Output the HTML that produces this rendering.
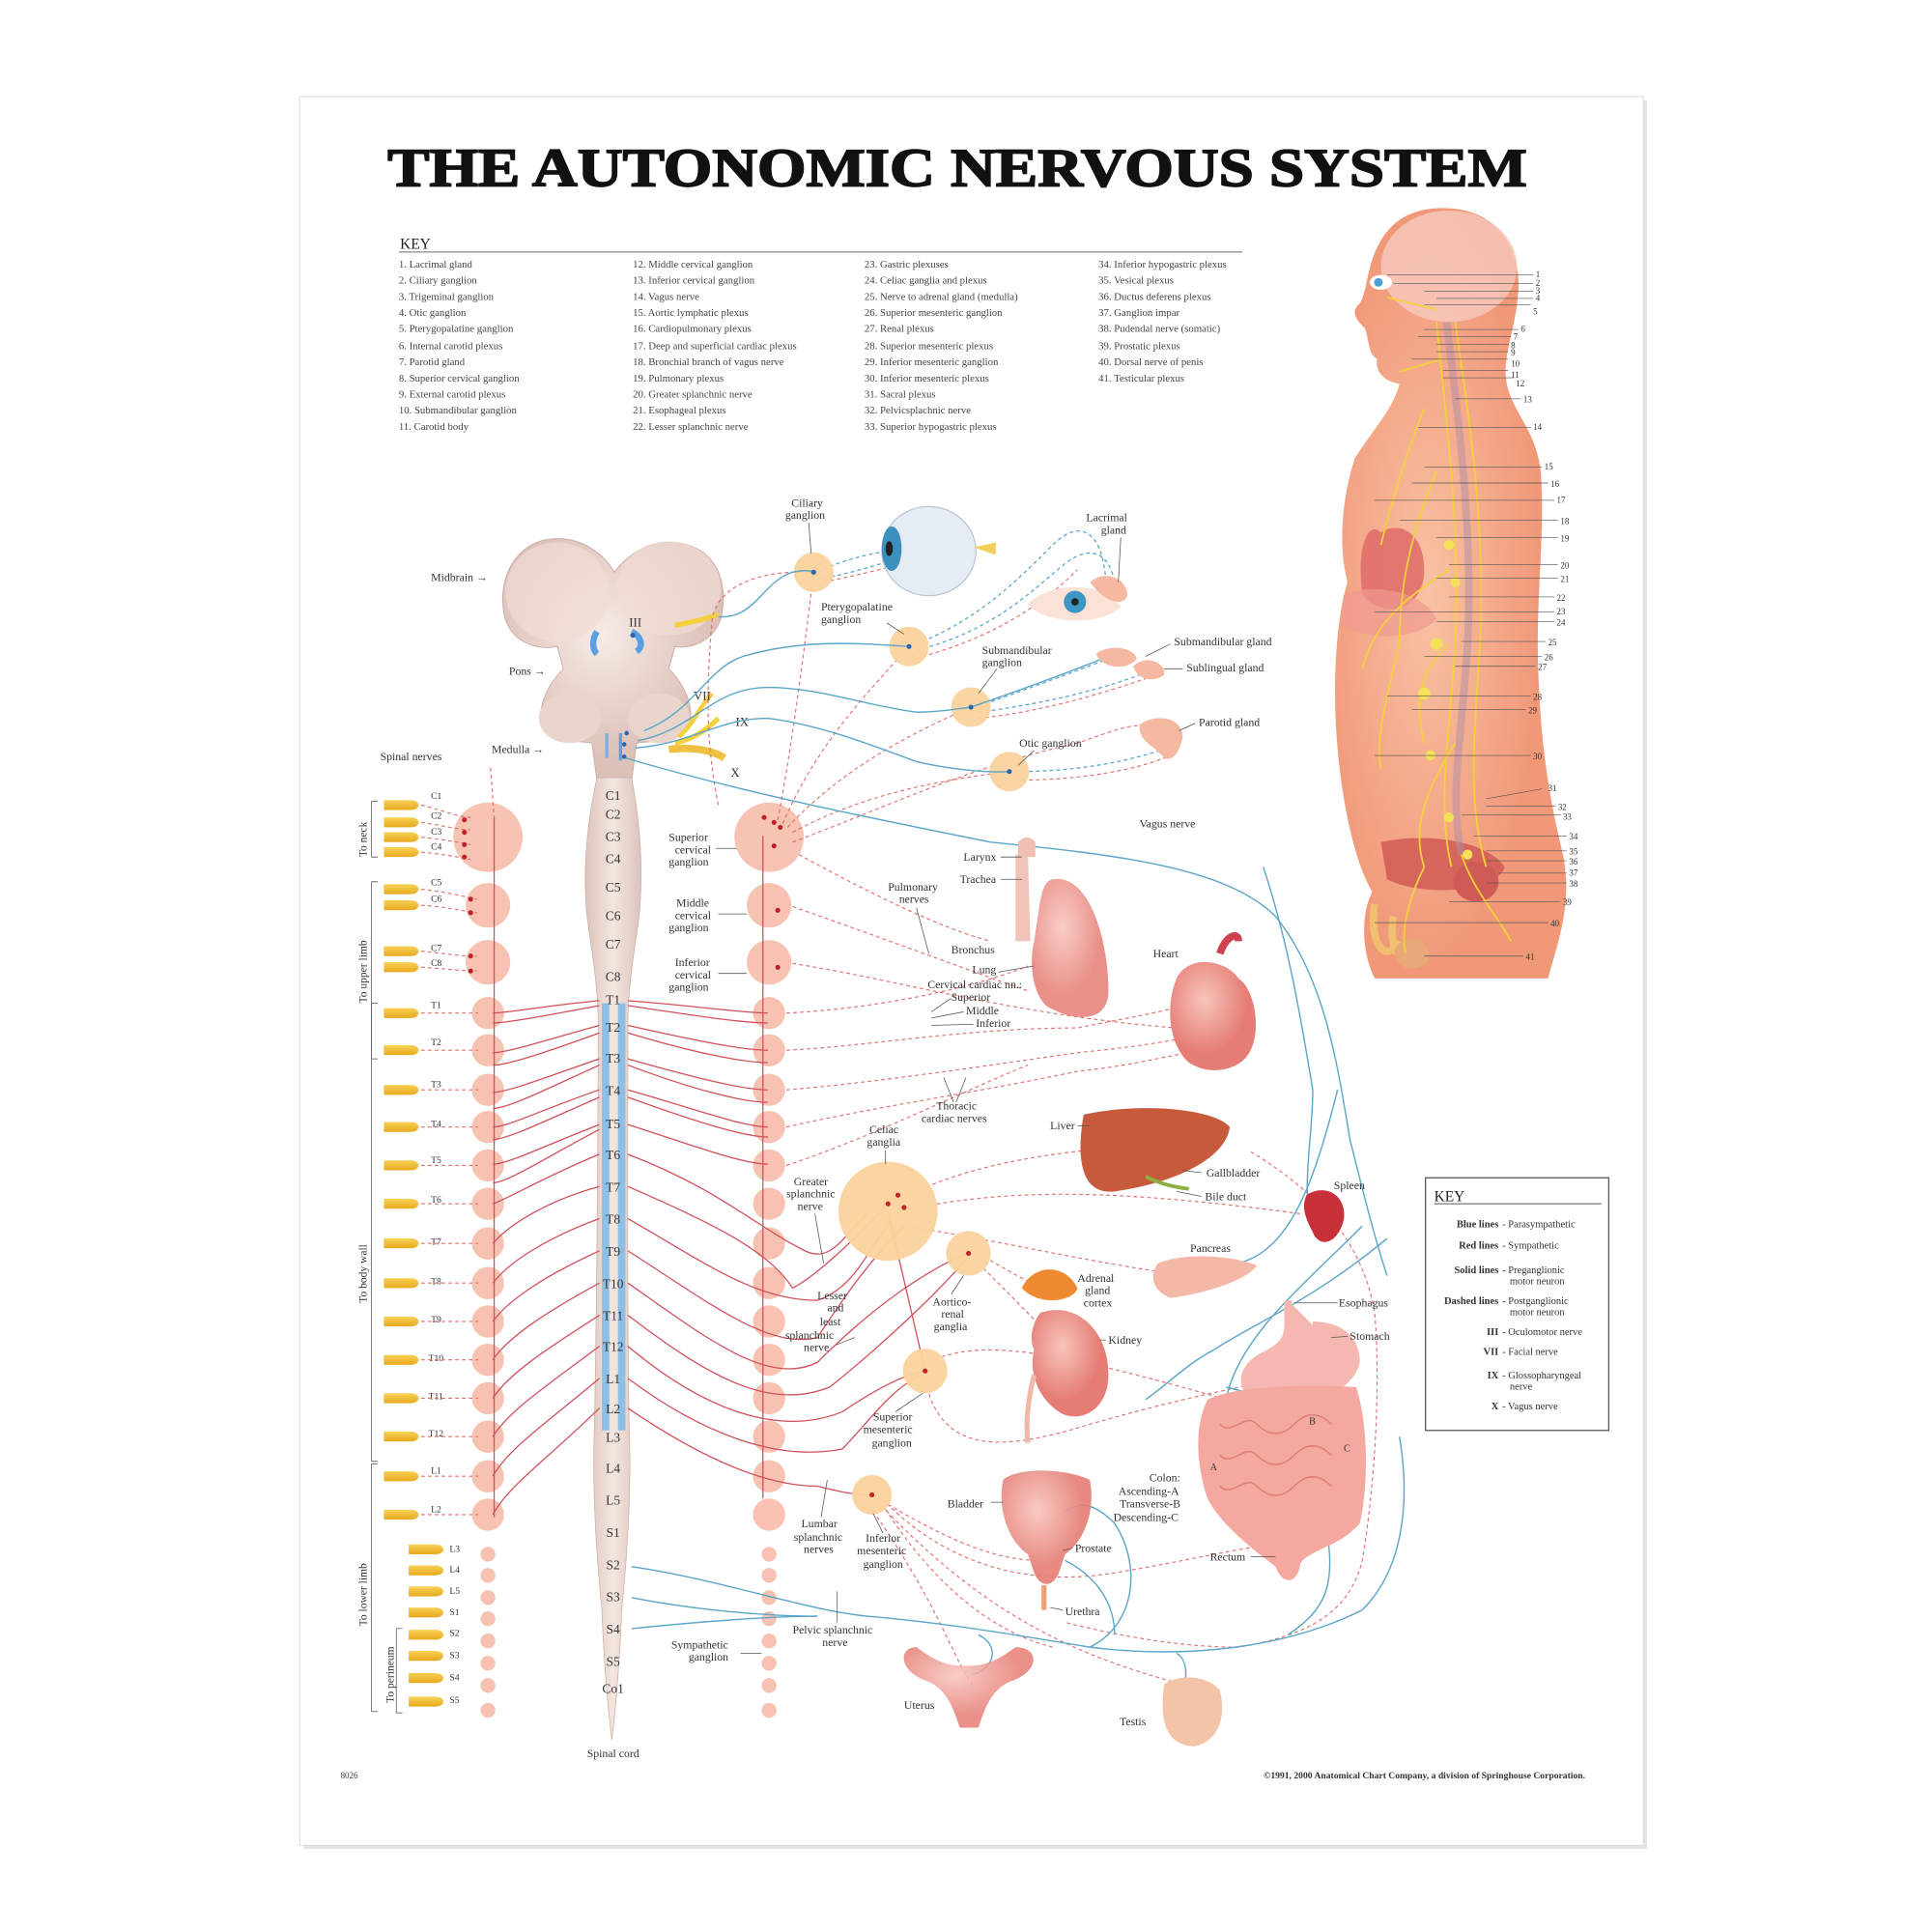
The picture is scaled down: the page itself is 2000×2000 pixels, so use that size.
<!DOCTYPE html>
<html><head><meta charset="utf-8"><style>
html,body{margin:0;padding:0;background:#fff;}
svg{display:block;}
text{font-family:"Liberation Serif",serif;fill:#333;}
.k{font-size:8.4px;fill:#444;}
.l{font-size:9.2px;fill:#333;}
.s{font-size:10px;fill:#333;}
.b{stroke:#5aa6c8;stroke-width:1.1;fill:none;}
.bd{stroke:#5aa6c8;stroke-width:1;fill:none;stroke-dasharray:3 2.5;}
.r{stroke:#d0505a;stroke-width:1;fill:none;}
.rd{stroke:#e07070;stroke-width:0.9;fill:none;stroke-dasharray:3 2.5;}
.g{stroke:#555;stroke-width:0.6;fill:none;}
.y{stroke:#f2d23a;stroke-width:1.4;fill:none;}
</style></head><body>
<svg width="2000" height="2000" viewBox="0 0 1560 1560" xmlns="http://www.w3.org/2000/svg">
<defs>
<linearGradient id="cord" x1="0" x2="1"><stop offset="0" stop-color="#dcc3bb"/><stop offset=".5" stop-color="#f3e6e0"/><stop offset="1" stop-color="#dcc3bb"/></linearGradient>
<radialGradient id="brain" cx=".45" cy=".4"><stop offset="0" stop-color="#f6ebe6"/><stop offset="1" stop-color="#dcc1b8"/></radialGradient>
<radialGradient id="org" cx=".4" cy=".35"><stop offset="0" stop-color="#f8c4bc"/><stop offset="1" stop-color="#e57d74"/></radialGradient>
<radialGradient id="body" cx=".4" cy=".5"><stop offset="0" stop-color="#f9c2a4"/><stop offset="1" stop-color="#f09878"/></radialGradient>
<linearGradient id="tab" x1="0" y1="0" x2="0" y2="1"><stop offset="0" stop-color="#f7d257"/><stop offset="1" stop-color="#e9a91e"/></linearGradient>
</defs>
<rect width="1560" height="1560" fill="#fff"/>
<rect x="245" y="81" width="1085" height="1412" fill="#e4e4e4"/>
<rect x="242" y="78" width="1085" height="1412" fill="#fff" stroke="#ddd" stroke-width="0.8"/>

<text x="773" y="150" text-anchor="middle" textLength="920" lengthAdjust="spacingAndGlyphs" style="font-size:44px;font-weight:bold;fill:#111;stroke:#111;stroke-width:1.3;">THE AUTONOMIC NERVOUS SYSTEM</text>

<text x="323" y="201" style="font-size:12px;fill:#222;">KEY</text>
<line x1="322" y1="203.5" x2="1003" y2="203.5" stroke="#888" stroke-width="1"/>
<g class="k">
<text x="322" y="216" class="k">1. Lacrimal gland</text><text x="322" y="229" class="k">2. Ciliary ganglion</text><text x="322" y="242" class="k">3. Trigeminal ganglion</text><text x="322" y="255" class="k">4. Otic ganglion</text><text x="322" y="268" class="k">5. Pterygopalatine ganglion</text><text x="322" y="282" class="k">6. Internal carotid plexus</text><text x="322" y="295" class="k">7. Parotid gland</text><text x="322" y="308" class="k">8. Superior cervical ganglion</text><text x="322" y="321" class="k">9. External carotid plexus</text><text x="322" y="334" class="k">10. Submandibular ganglion</text><text x="322" y="347" class="k">11. Carotid body</text>
<text x="511" y="216" class="k">12. Middle cervical ganglion</text><text x="511" y="229" class="k">13. Inferior cervical ganglion</text><text x="511" y="242" class="k">14. Vagus nerve</text><text x="511" y="255" class="k">15. Aortic lymphatic plexus</text><text x="511" y="268" class="k">16. Cardiopulmonary plexus</text><text x="511" y="282" class="k">17. Deep and superficial cardiac plexus</text><text x="511" y="295" class="k">18. Bronchial branch of vagus nerve</text><text x="511" y="308" class="k">19. Pulmonary plexus</text><text x="511" y="321" class="k">20. Greater splanchnic nerve</text><text x="511" y="334" class="k">21. Esophageal plexus</text><text x="511" y="347" class="k">22. Lesser splanchnic nerve</text>
<text x="698" y="216" class="k">23. Gastric plexuses</text><text x="698" y="229" class="k">24. Celiac ganglia and plexus</text><text x="698" y="242" class="k">25. Nerve to adrenal gland (medulla)</text><text x="698" y="255" class="k">26. Superior mesenteric ganglion</text><text x="698" y="268" class="k">27. Renal plexus</text><text x="698" y="282" class="k">28. Superior mesenteric plexus</text><text x="698" y="295" class="k">29. Inferior mesenteric ganglion</text><text x="698" y="308" class="k">30. Inferior mesenteric plexus</text><text x="698" y="321" class="k">31. Sacral plexus</text><text x="698" y="334" class="k">32. Pelvicsplachnic nerve</text><text x="698" y="347" class="k">33. Superior hypogastric plexus</text>
<text x="887" y="216" class="k">34. Inferior hypogastric plexus</text><text x="887" y="229" class="k">35. Vesical plexus</text><text x="887" y="242" class="k">36. Ductus deferens plexus</text><text x="887" y="255" class="k">37. Ganglion impar</text><text x="887" y="268" class="k">38. Pudendal nerve (somatic)</text><text x="887" y="282" class="k">39. Prostatic plexus</text><text x="887" y="295" class="k">40. Dorsal nerve of penis</text><text x="887" y="308" class="k">41. Testicular plexus</text>
</g>

<!-- Human figure -->
<path d="M1165,168 C1205,168 1228,195 1226,235 C1224,265 1214,285 1216,305 C1218,330 1240,345 1244,380 C1248,430 1240,480 1242,540 C1244,600 1250,640 1262,690 C1270,730 1258,760 1250,790 L1110,790 C1100,770 1098,740 1108,720 C1090,690 1078,620 1078,560 C1078,520 1082,490 1088,470 C1080,440 1084,400 1094,370 C1110,345 1125,330 1130,310 C1118,308 1110,300 1112,290 C1104,285 1106,275 1102,265 C1095,258 1090,252 1098,245 C1104,235 1104,215 1112,200 C1122,178 1140,168 1165,168Z" fill="url(#body)"/>
<ellipse cx="1170" cy="215" rx="55" ry="45" fill="#f6c9bd" opacity=".8"/>
<ellipse cx="1115" cy="228" rx="9" ry="6" fill="#fff"/><circle cx="1113" cy="228" r="3.5" fill="#4aa0d0"/>
<path d="M1115,430 C1105,420 1095,440 1100,480 C1115,500 1150,495 1150,460 C1150,430 1130,420 1115,430Z" fill="#e0706a" opacity=".9"/>
<path d="M1085,480 C1110,470 1150,478 1160,500 C1140,520 1100,515 1082,505Z" fill="#f09a90" opacity=".7"/>
<path d="M1115,680 C1150,672 1200,678 1215,700 C1210,720 1150,725 1120,710Z" fill="#d05a55" opacity=".85"/>
<ellipse cx="1192" cy="712" rx="18" ry="16" fill="#d05a55"/>
<path d="M1110,730 C1105,760 1118,780 1130,760 M1125,740 C1120,770 1135,785 1150,775" stroke="#f0c070" stroke-width="6" fill="none"/>
<ellipse cx="1140" cy="770" rx="14" ry="12" fill="#e8a878"/>
<path d="M1168,260 C1175,320 1190,420 1185,520 C1180,600 1170,640 1180,690" stroke="#b090a8" stroke-width="6" fill="none" opacity=".5"/>
<path d="M1160,260 C1165,320 1180,420 1175,520 C1170,600 1160,650 1172,700" class="y" stroke-width="3"/>
<path d="M1175,260 C1185,330 1200,420 1195,520 C1190,600 1185,650 1200,700" class="y"/>
<path d="M1120,240 L1160,250 M1130,300 L1165,290 M1150,330 C1130,380 1120,420 1115,440 M1160,380 C1140,430 1130,470 1130,520 C1120,560 1110,600 1115,620 M1170,520 C1150,540 1140,560 1150,600 M1170,460 C1140,480 1110,500 1100,540 M1175,600 C1150,640 1140,670 1150,700 M1180,690 C1190,720 1210,740 1220,760 M1150,700 C1140,720 1130,750 1135,770" class="y"/>
<g fill="#f5e05a"><circle cx="1170" cy="440" r="4"/><circle cx="1175" cy="470" r="4"/><circle cx="1160" cy="520" r="5"/><circle cx="1150" cy="560" r="5"/><circle cx="1155" cy="610" r="4"/><circle cx="1170" cy="660" r="4"/><circle cx="1185" cy="690" r="4"/></g>
<g stroke="#555" stroke-width="0.5">
<line x1="1120" y1="222" x2="1238" y2="222"/><line x1="1125" y1="229" x2="1238" y2="229"/><line x1="1150" y1="235" x2="1238" y2="235"/><line x1="1160" y1="241" x2="1238" y2="241"/><line x1="1150" y1="246" x2="1236" y2="246"/>
<line x1="1150" y1="266" x2="1226" y2="266"/><line x1="1145" y1="272" x2="1220" y2="272"/><line x1="1160" y1="278" x2="1218" y2="278"/><line x1="1160" y1="284" x2="1218" y2="284"/><line x1="1140" y1="290" x2="1218" y2="290"/><line x1="1165" y1="299" x2="1218" y2="299"/><line x1="1165" y1="305" x2="1222" y2="305"/><line x1="1175" y1="322" x2="1228" y2="322"/><line x1="1145" y1="345" x2="1236" y2="345"/>
<line x1="1150" y1="377" x2="1245" y2="377"/><line x1="1140" y1="390" x2="1250" y2="390"/><line x1="1110" y1="404" x2="1255" y2="404"/><line x1="1130" y1="420" x2="1258" y2="420"/><line x1="1160" y1="434" x2="1258" y2="434"/><line x1="1170" y1="456" x2="1258" y2="456"/><line x1="1160" y1="467" x2="1258" y2="467"/><line x1="1170" y1="482" x2="1255" y2="482"/><line x1="1110" y1="494" x2="1255" y2="494"/><line x1="1160" y1="502" x2="1255" y2="502"/>
<line x1="1180" y1="518" x2="1248" y2="518"/><line x1="1150" y1="530" x2="1245" y2="530"/><line x1="1175" y1="538" x2="1240" y2="538"/><line x1="1120" y1="562" x2="1236" y2="562"/><line x1="1140" y1="573" x2="1232" y2="573"/><line x1="1110" y1="610" x2="1236" y2="610"/>
<line x1="1200" y1="645" x2="1245" y2="637"/><line x1="1200" y1="651" x2="1256" y2="651"/><line x1="1180" y1="658" x2="1260" y2="658"/><line x1="1190" y1="675" x2="1265" y2="675"/><line x1="1200" y1="687" x2="1265" y2="687"/><line x1="1200" y1="695" x2="1265" y2="695"/><line x1="1210" y1="705" x2="1265" y2="705"/><line x1="1200" y1="713" x2="1265" y2="713"/><line x1="1170" y1="728" x2="1260" y2="728"/><line x1="1110" y1="745" x2="1250" y2="745"/><line x1="1150" y1="772" x2="1230" y2="772"/>
</g>
<g style="font-size:7px;fill:#333;font-family:'Liberation Serif',serif">
<text x="1240" y="224">1</text><text x="1240" y="231">2</text><text x="1240" y="237">3</text><text x="1240" y="243">4</text><text x="1238" y="254">5</text><text x="1228" y="268">6</text><text x="1222" y="274">7</text><text x="1220" y="281">8</text><text x="1220" y="287">9</text><text x="1220" y="296">10</text><text x="1220" y="305">11</text><text x="1224" y="312">12</text><text x="1230" y="325">13</text><text x="1238" y="347">14</text>
<text x="1247" y="379">15</text><text x="1252" y="393">16</text><text x="1257" y="406">17</text><text x="1260" y="423">18</text><text x="1260" y="437">19</text><text x="1260" y="459">20</text><text x="1260" y="470">21</text><text x="1257" y="485">22</text><text x="1257" y="496">23</text><text x="1257" y="505">24</text><text x="1250" y="521">25</text><text x="1247" y="533">26</text><text x="1242" y="541">27</text><text x="1238" y="565">28</text><text x="1234" y="576">29</text><text x="1238" y="613">30</text><text x="1250" y="639">31</text><text x="1258" y="654">32</text><text x="1262" y="662">33</text><text x="1267" y="678">34</text><text x="1267" y="690">35</text><text x="1267" y="698">36</text><text x="1267" y="707">37</text><text x="1267" y="716">38</text><text x="1262" y="731">39</text><text x="1252" y="748">40</text><text x="1232" y="775">41</text>
</g>

<!-- Brainstem -->
<path d="M450,435 C415,435 400,470 408,500 C415,520 435,525 450,522 L455,540 C440,555 432,575 440,590 C450,600 470,598 478,600 L482,630 L510,630 L514,600 C525,598 545,600 555,590 C562,575 555,555 540,540 L545,522 C560,525 580,515 583,495 C588,465 575,438 540,438 C520,438 505,450 496,462 C488,448 472,435 450,435Z" fill="url(#brain)" stroke="#cfb0a6" stroke-width="0.8"/>
<ellipse cx="450" cy="478" rx="42" ry="40" fill="#efddd6" opacity=".7"/><ellipse cx="540" cy="475" rx="42" ry="38" fill="#efddd6" opacity=".7"/>
<ellipse cx="460" cy="580" rx="25" ry="20" fill="#ead5cd"/><ellipse cx="532" cy="580" rx="25" ry="20" fill="#ead5cd"/>
<path d="M482,510 C478,516 478,524 482,528" stroke="#5aa0e0" stroke-width="5" fill="none"/><path d="M510,510 C518,514 520,522 514,526" stroke="#5aa0e0" stroke-width="5" fill="none"/>
<line x1="490" y1="592" x2="490" y2="612" stroke="#7ab0e0" stroke-width="2.5"/><line x1="501" y1="592" x2="501" y2="614" stroke="#5aa0e0" stroke-width="2.5"/>
<path d="M545,505 C560,502 570,500 580,496" stroke="#f4d03a" stroke-width="4" fill="none"/>
<path d="M548,595 C560,585 565,570 575,560" stroke="#f4d03a" stroke-width="3.5" fill="none"/>
<path d="M545,600 C560,597 572,588 580,580" stroke="#f4d03a" stroke-width="4" fill="none"/>
<path d="M540,605 C560,603 575,606 585,612" stroke="#f0c040" stroke-width="6" fill="none"/>
<text x="508" y="506" class="s">III</text><text x="560" y="565" class="s">VII</text><text x="594" y="586" class="s">IX</text><text x="590" y="627" class="s">X</text>
<text x="348" y="469" class="l">Midbrain →</text><text x="411" y="545" class="l">Pons →</text><text x="397" y="608" class="l">Medulla →</text><text x="307" y="614" class="l">Spinal nerves</text>

<!-- Spinal cord -->
<path d="M482,628 L510,628 C516,660 520,700 516,740 C512,770 508,790 507,820 C507,900 506,1050 508,1150 C510,1200 507,1250 502,1300 C500,1350 497,1380 494,1405 C491,1380 488,1350 486,1300 C481,1250 478,1200 480,1150 C482,1050 483,900 483,820 C482,790 478,770 474,740 C470,700 475,660 482,628Z" fill="url(#cord)" stroke="#cfb0a6" stroke-width="0.6"/>
<rect x="486" y="810" width="6" height="345" fill="#8ec0e6"/><rect x="499" y="810" width="6" height="345" fill="#8ec0e6"/>
<g style="font-size:10.5px;fill:#333;font-family:'Liberation Serif',serif" text-anchor="middle">
<text x="495" y="646">C1</text><text x="495" y="661">C2</text><text x="495" y="679">C3</text><text x="495" y="697">C4</text><text x="495" y="720">C5</text><text x="495" y="743">C6</text><text x="495" y="766">C7</text><text x="495" y="792">C8</text><text x="495" y="811">T1</text><text x="495" y="833">T2</text><text x="495" y="858">T3</text><text x="495" y="884">T4</text><text x="495" y="911">T5</text><text x="495" y="936">T6</text><text x="495" y="962">T7</text><text x="495" y="988">T8</text><text x="495" y="1014">T9</text><text x="495" y="1040">T10</text><text x="495" y="1066">T11</text><text x="495" y="1091">T12</text><text x="495" y="1117">L1</text><text x="495" y="1141">L2</text><text x="495" y="1164">L3</text><text x="495" y="1189">L4</text><text x="495" y="1215">L5</text><text x="495" y="1241">S1</text><text x="495" y="1267">S2</text><text x="495" y="1293">S3</text><text x="495" y="1319">S4</text><text x="495" y="1345">S5</text><text x="495" y="1367">Co1</text>
</g>
<text x="474" y="1419" class="l">Spinal cord</text>

<!-- left and right chains -->
<g fill="#f6b8a4" opacity=".85">
<circle cx="394" cy="676" r="28"/><circle cx="394" cy="731" r="18"/><circle cx="394" cy="777" r="18"/>
<circle cx="394" cy="818" r="13"/><circle cx="394" cy="848" r="13"/><circle cx="394" cy="880" r="13"/><circle cx="394" cy="910" r="13"/><circle cx="394" cy="941" r="13"/><circle cx="394" cy="972" r="13"/><circle cx="394" cy="1004" r="13"/><circle cx="394" cy="1036" r="13"/><circle cx="394" cy="1067" r="13"/><circle cx="394" cy="1098" r="13"/><circle cx="394" cy="1129" r="13"/><circle cx="394" cy="1160" r="13"/><circle cx="394" cy="1192" r="13"/><circle cx="394" cy="1223" r="13"/>
<circle cx="394" cy="1255" r="6"/><circle cx="394" cy="1272" r="6"/><circle cx="394" cy="1290" r="6"/><circle cx="394" cy="1307" r="6"/><circle cx="394" cy="1325" r="6"/><circle cx="394" cy="1343" r="6"/><circle cx="394" cy="1361" r="6"/><circle cx="394" cy="1381" r="6"/>
<circle cx="621" cy="676" r="28"/><circle cx="621" cy="731" r="18"/><circle cx="621" cy="777" r="18"/>
<circle cx="621" cy="818" r="13"/><circle cx="621" cy="848" r="13"/><circle cx="621" cy="880" r="13"/><circle cx="621" cy="910" r="13"/><circle cx="621" cy="941" r="13"/><circle cx="621" cy="972" r="13"/><circle cx="621" cy="1004" r="13"/><circle cx="621" cy="1036" r="13"/><circle cx="621" cy="1067" r="13"/><circle cx="621" cy="1098" r="13"/><circle cx="621" cy="1129" r="13"/><circle cx="621" cy="1160" r="13"/><circle cx="621" cy="1192" r="13"/><circle cx="621" cy="1223" r="13"/>
<circle cx="621" cy="1255" r="6"/><circle cx="621" cy="1272" r="6"/><circle cx="621" cy="1290" r="6"/><circle cx="621" cy="1307" r="6"/><circle cx="621" cy="1325" r="6"/><circle cx="621" cy="1343" r="6"/><circle cx="621" cy="1361" r="6"/><circle cx="621" cy="1381" r="6"/>
</g>
<line x1="399" y1="660" x2="399" y2="1225" class="r"/><line x1="616" y1="675" x2="616" y2="1210" class="r"/>

<!-- yellow tabs -->
<g fill="url(#tab)">
<path d="M310,646h22a6,4 0 0 1 0,8h-22z"/><path d="M310,660h22a6,4 0 0 1 0,8h-22z"/><path d="M310,672h22a6,4 0 0 1 0,8h-22z"/><path d="M310,684h22a6,4 0 0 1 0,8h-22z"/>
<path d="M310,714h22a6,4 0 0 1 0,8h-22z"/><path d="M310,727h22a6,4 0 0 1 0,8h-22z"/><path d="M310,764h22a6,4 0 0 1 0,8h-22z"/><path d="M310,777h22a6,4 0 0 1 0,8h-22z"/>
<path d="M310,814h22a6,4 0 0 1 0,8h-22z"/><path d="M310,844h22a6,4 0 0 1 0,8h-22z"/><path d="M310,876h22a6,4 0 0 1 0,8h-22z"/><path d="M310,906h22a6,4 0 0 1 0,8h-22z"/><path d="M310,937h22a6,4 0 0 1 0,8h-22z"/><path d="M310,968h22a6,4 0 0 1 0,8h-22z"/><path d="M310,1000h22a6,4 0 0 1 0,8h-22z"/><path d="M310,1032h22a6,4 0 0 1 0,8h-22z"/><path d="M310,1063h22a6,4 0 0 1 0,8h-22z"/><path d="M310,1094h22a6,4 0 0 1 0,8h-22z"/><path d="M310,1125h22a6,4 0 0 1 0,8h-22z"/><path d="M310,1156h22a6,4 0 0 1 0,8h-22z"/><path d="M310,1188h22a6,4 0 0 1 0,8h-22z"/><path d="M310,1219h22a6,4 0 0 1 0,8h-22z"/>
<path d="M330,1247h22a6,4 0 0 1 0,8h-22z"/><path d="M330,1264h22a6,4 0 0 1 0,8h-22z"/><path d="M330,1281h22a6,4 0 0 1 0,8h-22z"/><path d="M330,1298h22a6,4 0 0 1 0,8h-22z"/><path d="M330,1316h22a6,4 0 0 1 0,8h-22z"/><path d="M330,1333h22a6,4 0 0 1 0,8h-22z"/><path d="M330,1351h22a6,4 0 0 1 0,8h-22z"/><path d="M330,1370h22a6,4 0 0 1 0,8h-22z"/>
</g>
<g style="font-size:7.5px;fill:#333;font-family:'Liberation Serif',serif">
<text x="348" y="645">C1</text><text x="348" y="661">C2</text><text x="348" y="674">C3</text><text x="348" y="686">C4</text><text x="348" y="715">C5</text><text x="348" y="728">C6</text><text x="348" y="768">C7</text><text x="348" y="780">C8</text>
<text x="348" y="814">T1</text><text x="348" y="844">T2</text><text x="348" y="878">T3</text><text x="348" y="910">T4</text><text x="348" y="939">T5</text><text x="348" y="971">T6</text><text x="348" y="1005">T7</text><text x="348" y="1037">T8</text><text x="348" y="1068">T9</text><text x="346" y="1099">T10</text><text x="346" y="1130">T11</text><text x="346" y="1160">T12</text><text x="348" y="1190">L1</text><text x="348" y="1221">L2</text>
<text x="363" y="1253">L3</text><text x="363" y="1270">L4</text><text x="363" y="1287">L5</text><text x="363" y="1304">S1</text><text x="363" y="1321">S2</text><text x="363" y="1339">S3</text><text x="363" y="1357">S4</text><text x="363" y="1375">S5</text>
</g>
<g class="g" stroke="#777"><path d="M305,647 h-5 v45 h5"/><path d="M305,712 h-5 v143 h5"/><path d="M305,810 h-5 v370 h5"/><path d="M305,1182 h-5 v200 h5"/><path d="M325,1315 h-5 v68 h5"/></g>
<g style="font-size:9px;fill:#333;font-family:'Liberation Serif',serif">
<text transform="translate(296,692) rotate(-90)">To neck</text><text transform="translate(296,810) rotate(-90)">To upper limb</text><text transform="translate(296,1052) rotate(-90)">To body wall</text><text transform="translate(296,1313) rotate(-90)">To lower limb</text><text transform="translate(318,1375) rotate(-90)">To perineum</text>
</g>

<!-- red preganglionic lines -->
<g class="r">
<path d="M484,808 C440,812 410,818 398,818"/><path d="M484,812 C440,820 410,826 398,826"/>
<path d="M484,828 C440,840 410,850 398,850"/><path d="M484,834 C440,850 410,860 398,860"/>
<path d="M484,855 C440,870 410,882 398,882"/><path d="M484,860 C440,880 410,895 398,895"/>
<path d="M484,880 C440,895 410,910 398,910"/><path d="M484,886 C440,905 410,920 398,920"/>
<path d="M484,908 C440,925 410,940 398,940"/><path d="M484,912 C440,935 410,955 398,955"/>
<path d="M484,932 C440,950 410,968 398,972"/><path d="M484,958 C440,970 410,990 398,1004"/><path d="M484,984 C440,1000 410,1020 398,1036"/><path d="M484,1010 C440,1030 410,1050 398,1067"/><path d="M484,1036 C440,1060 410,1080 398,1098"/><path d="M484,1062 C440,1090 410,1110 398,1129"/><path d="M484,1087 C440,1120 410,1140 398,1160"/><path d="M484,1113 C440,1150 410,1170 398,1192"/><path d="M484,1137 C440,1180 410,1200 398,1223"/>
<path d="M507,808 C560,812 600,818 620,818"/><path d="M507,812 C560,820 600,826 620,826"/>
<path d="M507,828 C560,840 600,848 620,848"/><path d="M507,834 C560,850 600,858 620,858"/>
<path d="M507,855 C560,870 600,880 620,880"/><path d="M507,860 C560,880 600,890 620,890"/>
<path d="M507,880 C560,895 600,910 620,910"/><path d="M507,886 C560,905 600,918 620,918"/>
<path d="M507,908 C560,925 600,940 620,940"/>
<path d="M507,932 C580,960 610,990 650,1010 C670,1020 680,1000 700,980"/>
<path d="M507,958 C580,990 620,1010 640,1040 C660,1030 690,1000 715,975"/>
<path d="M507,984 C570,1020 610,1050 660,1050 C690,1040 700,1010 720,985"/>
<path d="M507,1010 C570,1050 620,1090 660,1080 C680,1050 700,1020 730,990"/>
<path d="M507,1036 C570,1080 620,1120 660,1100 C700,1060 740,1030 780,1012"/>
<path d="M507,1062 C570,1110 620,1140 670,1120 C720,1080 760,1040 782,1015"/>
<path d="M507,1087 C570,1140 630,1160 680,1140 C710,1120 730,1110 747,1107"/>
<path d="M507,1113 C570,1160 630,1180 680,1170 C700,1150 720,1120 745,1110"/>
<path d="M507,1137 C570,1180 620,1200 660,1200 C680,1205 690,1207 704,1207"/>
<path d="M717,978 L747,1107"/>
</g>
<g class="rd">
<path d="M340,650 C360,655 370,660 380,660"/><path d="M340,664 C360,667 370,670 380,670"/><path d="M340,676 C360,678 370,680 380,682"/><path d="M340,688 C360,690 370,692 380,694"/>
<path d="M340,718 C360,720 370,723 385,726"/><path d="M340,731 C360,732 370,735 385,737"/><path d="M340,768 C360,770 370,772 385,772"/><path d="M340,781 C360,782 370,784 385,784"/>
<path d="M340,818 H386"/><path d="M340,848 H386"/><path d="M340,880 H386"/><path d="M340,910 H386"/><path d="M340,941 H386"/><path d="M340,972 H386"/><path d="M340,1004 H386"/><path d="M340,1036 H386"/><path d="M340,1067 H386"/><path d="M340,1098 H386"/><path d="M340,1129 H386"/><path d="M340,1160 H386"/><path d="M340,1192 H386"/><path d="M340,1223 H386"/>
<path d="M396,620 C398,640 398,650 399,660"/>
<path d="M628,662 C640,600 650,520 657,462"/><path d="M632,665 C660,600 700,560 734,522"/><path d="M636,668 C680,620 740,590 784,571"/><path d="M640,672 C700,640 760,630 815,623"/><path d="M640,680 C720,650 780,620 870,600 C900,590 920,580 935,590"/>
<path d="M580,650 C570,600 570,560 575,500 C580,470 620,460 657,462"/>
<path d="M645,690 C700,720 760,750 800,760"/><path d="M640,732 C720,760 800,790 830,800"/><path d="M640,778 C720,790 820,820 950,830"/>
<path d="M635,818 C700,815 780,800 830,780"/><path d="M635,848 C700,845 780,830 870,830 C920,820 950,815 960,810"/><path d="M635,880 C700,875 800,860 870,850 C920,845 950,840 970,835"/><path d="M635,910 C700,895 800,880 870,865 C920,860 950,850 990,845"/><path d="M635,941 C700,920 780,880 830,860"/>
<path d="M728,968 C780,940 850,930 920,925"/><path d="M740,975 C820,960 900,960 1050,980"/><path d="M730,990 C800,1000 880,1020 960,1030"/><path d="M790,1012 C820,1030 840,1040 850,1045"/><path d="M790,1020 C830,1060 850,1080 860,1095"/><path d="M747,1115 C760,1170 800,1175 880,1150 C950,1130 1000,1120 1050,1110"/><path d="M750,1100 C790,1080 850,1090 990,1130"/>
<path d="M712,1212 C760,1240 800,1260 840,1260"/><path d="M712,1210 C770,1270 840,1280 900,1270 C960,1260 1000,1250 1040,1245"/><path d="M712,1214 C760,1290 810,1320 850,1330"/><path d="M705,1220 C760,1300 770,1340 785,1360"/><path d="M712,1216 C800,1310 880,1340 955,1360"/>
<path d="M1010,930 C1060,960 1100,1000 1110,1060 C1115,1120 1110,1200 1100,1260 C1090,1300 1060,1320 1000,1330 C950,1330 900,1320 860,1310"/>
</g>
<g class="bd">
<path d="M660,462 C680,452 700,448 715,445"/><path d="M660,468 C690,462 710,456 720,452"/>
<path d="M740,520 C790,500 820,470 850,440 C870,420 890,425 893,470"/><path d="M740,525 C800,510 830,480 860,455 C880,440 895,445 900,470"/>
<path d="M790,570 C820,560 860,545 895,532"/><path d="M790,575 C830,570 880,560 920,545"/>
<path d="M820,623 C860,623 900,618 940,605"/>
</g>
<g class="rd">
<path d="M665,470 C690,465 710,460 718,458"/><path d="M745,530 C800,515 840,490 870,460"/><path d="M790,580 C840,575 890,560 925,548"/><path d="M820,630 C860,630 910,625 945,610"/>
</g>

<g fill="#fbd39c" opacity=".95">
<circle cx="657" cy="462" r="16"/><circle cx="734" cy="522" r="16"/><circle cx="784" cy="571" r="16"/><circle cx="815" cy="623" r="16"/>
<circle cx="717" cy="978" r="40"/><circle cx="782" cy="1012" r="18"/><circle cx="747" cy="1107" r="18"/><circle cx="704" cy="1207" r="16"/>
</g>

<g class="b">
<path d="M580,498 C610,500 615,470 640,462 C650,460 655,461 657,462"/>
<path d="M520,590 C560,575 570,540 600,530 C650,515 700,520 734,522"/>
<path d="M515,598 C560,590 575,555 620,555 C660,555 700,570 740,575 C760,575 775,572 784,571"/>
<path d="M513,604 C560,600 580,580 620,580 C660,585 700,600 740,615 C770,622 800,624 815,623"/>
<path d="M784,571 C830,555 870,540 895,530"/>
<path d="M505,612 C600,640 700,660 800,680 C900,690 990,700 1030,740 C1070,790 1080,860 1090,920 C1100,960 1110,1000 1120,1030"/>
<path d="M1020,700 C1040,760 1050,820 1060,880 C1060,920 1050,960 1060,990"/>
<path d="M1080,880 C1060,960 1040,1010 1000,1020"/>
<path d="M1120,1000 C1060,1050 1010,1070 980,1090 C960,1100 940,1120 925,1130"/>
<path d="M1100,990 C1050,1040 1000,1080 990,1130 C985,1180 1000,1200 1010,1220"/>
<path d="M990,1120 C1030,1130 1060,1140 1080,1130"/>
<path d="M510,1265 C580,1275 650,1300 700,1305 C760,1310 820,1320 880,1330 C960,1340 1040,1330 1100,1300 C1130,1270 1140,1220 1130,1160"/>
<path d="M510,1290 C560,1300 620,1305 660,1305"/><path d="M510,1315 C560,1310 620,1305 660,1305"/>
<path d="M880,1330 C920,1310 920,1260 900,1230 C880,1210 870,1215 860,1220"/>
<path d="M900,1320 C900,1290 880,1270 860,1260"/>
<path d="M790,1320 C810,1330 800,1350 785,1352"/>
<path d="M950,1335 C960,1340 960,1360 950,1380"/>
<path d="M1040,1320 C1070,1300 1080,1280 1070,1230"/>
</g>
<g fill="#2a66b0"><circle cx="657" cy="462" r="2"/><circle cx="734" cy="522" r="2"/><circle cx="784" cy="571" r="2"/><circle cx="815" cy="623" r="2"/><circle cx="511" cy="513" r="2"/><circle cx="506" cy="592" r="1.8"/><circle cx="504" cy="601" r="1.8"/><circle cx="504" cy="611" r="1.8"/></g>
<g fill="#c0202a"><circle cx="717" cy="972" r="2"/><circle cx="725" cy="965" r="2"/><circle cx="730" cy="975" r="2"/><circle cx="782" cy="1012" r="2"/><circle cx="747" cy="1107" r="2"/><circle cx="704" cy="1207" r="2"/><circle cx="617" cy="660" r="2"/><circle cx="625" cy="664" r="2"/><circle cx="630" cy="668" r="2"/><circle cx="625" cy="683" r="2"/><circle cx="375" cy="662" r="2"/><circle cx="375" cy="672" r="2"/><circle cx="375" cy="682" r="2"/><circle cx="375" cy="692" r="2"/><circle cx="380" cy="726" r="2"/><circle cx="380" cy="737" r="2"/><circle cx="380" cy="772" r="2"/><circle cx="380" cy="784" r="2"/><circle cx="628" cy="735" r="2"/><circle cx="628" cy="781" r="2"/></g>

<!-- Organs -->
<ellipse cx="750" cy="445" rx="38" ry="36" fill="#e6ecf4" stroke="#b8c6d8"/><ellipse cx="720" cy="443" rx="8" ry="18" fill="#3d8fbf"/><ellipse cx="718" cy="443" rx="3" ry="6" fill="#222"/>
<path d="M786,442 l18,-4 v10 z" fill="#f2cf5a"/>
<path d="M830,488 C845,470 890,468 905,490 C890,505 845,505 830,488Z" fill="#fbe2d6"/><circle cx="868" cy="486" r="9" fill="#3d96c4"/><circle cx="868" cy="486" r="3" fill="#222"/>
<path d="M880,470 C895,458 912,470 910,482 C905,490 892,486 880,470Z" fill="#f4b9a0"/>
<path d="M885,528 C895,520 915,522 918,532 C910,542 890,540 885,528Z" fill="#f4b9a0"/><path d="M915,538 C925,528 942,535 940,545 C930,552 918,548 915,538Z" fill="#f4b9a0"/>
<path d="M920,585 C935,575 955,580 955,595 C952,610 945,615 940,612 C930,600 920,600 920,585Z" fill="#f4b9a0"/>
<path d="M820,690 L830,690 L832,760 L820,760Z" fill="#f2c4b8"/><path d="M822,680 c5,-5 10,-5 14,0 v12 h-14z" fill="#f0bfb2"/>
<path d="M850,710 C880,705 895,760 895,800 C895,825 870,825 850,815 C835,810 830,780 835,760 C840,730 840,712 850,710Z" fill="url(#org)" opacity=".85"/>
<path d="M950,790 C960,770 990,775 1000,790 C1015,800 1020,840 1005,855 C995,865 975,868 960,858 C945,845 940,815 950,790Z" fill="url(#org)"/>
<path d="M985,770 C990,755 1000,752 1000,760" stroke="#d04050" stroke-width="6" fill="none"/>
<path d="M875,900 C920,890 980,895 993,910 C990,935 950,955 900,962 C875,965 868,940 875,900Z" fill="#c85a3c"/>
<path d="M925,950 C935,955 945,958 960,960" stroke="#8db040" stroke-width="3" fill="none"/>
<path d="M1055,965 C1070,955 1088,965 1085,985 C1080,1005 1065,1008 1060,995 C1055,985 1050,975 1055,965Z" fill="#c8303a"/>
<path d="M935,1020 C960,1010 1000,1015 1015,1022 C1005,1035 970,1045 945,1048 C930,1042 928,1030 935,1020Z" fill="#f4b8a8"/>
<path d="M825,1040 C835,1020 860,1020 870,1040 C868,1050 840,1056 825,1040Z" fill="#ee8a30"/>
<path d="M840,1060 C870,1050 895,1075 895,1110 C895,1140 870,1150 855,1140 C840,1130 830,1110 835,1090 C830,1080 835,1066 840,1060Z" fill="url(#org)"/>
<path d="M835,1110 C830,1130 828,1150 830,1165" stroke="#f0b8a8" stroke-width="4" fill="none"/>
<path d="M1040,1050 v20 C1040,1085 1030,1090 1020,1095 C1000,1105 1000,1125 1020,1130 C1060,1135 1090,1120 1095,1100 C1095,1080 1080,1070 1060,1070" fill="#f4b8b0" stroke="#f4b8b0" stroke-width="6"/>
<path d="M975,1130 C1000,1118 1060,1118 1095,1120 C1105,1150 1105,1200 1098,1230 C1080,1250 1060,1250 1050,1262 C1048,1280 1035,1280 1030,1265 C1010,1250 985,1230 975,1210 C965,1180 965,1150 975,1130Z" fill="#f4a8a0"/>
<path d="M985,1150 c10,10 20,-10 30,0 s20,10 30,0 s20,-10 30,0 M985,1175 c10,10 20,-10 30,0 s20,10 30,0 s20,-10 30,0 M985,1200 c10,10 20,-10 30,0 s20,10 30,0 s20,-10 30,0" stroke="#e0807a" stroke-width="1.2" fill="none"/>
<path d="M810,1195 C820,1185 860,1185 880,1195 C885,1220 875,1245 860,1255 L855,1270 C850,1282 840,1282 835,1270 L830,1255 C815,1245 805,1220 810,1195Z" fill="url(#org)" opacity=".9"/>
<path d="M843,1280 v20" stroke="#f0a070" stroke-width="4"/>
<path d="M740,1330 C760,1345 770,1345 780,1345 C790,1345 800,1345 820,1330 C840,1330 840,1350 815,1358 C800,1365 795,1380 790,1395 L775,1395 C770,1380 765,1365 750,1358 C725,1350 725,1330 740,1330Z" fill="url(#org)" opacity=".85"/>
<path d="M940,1360 C950,1352 975,1352 985,1365 C990,1385 985,1405 965,1410 C945,1410 935,1395 940,1360Z" fill="#f4c4a8"/>

<g class="l">
<text x="639" y="409">Ciliary</text><text x="634" y="419">ganglion</text>
<text x="877" y="421">Lacrimal</text><text x="889" y="431">gland</text>
<text x="663" y="493">Pterygopalatine</text><text x="663" y="503">ganglion</text>
<text x="793" y="528">Submandibular</text><text x="793" y="538">ganglion</text>
<text x="948" y="521">Submandibular gland</text><text x="958" y="542">Sublingual  gland</text><text x="968" y="586">Parotid gland</text>
<text x="823" y="603">Otic ganglion</text><text x="920" y="668">Vagus nerve</text>
<text x="540" y="679">Superior</text><text x="545" y="689">cervical</text><text x="540" y="699">ganglion</text>
<text x="546" y="732">Middle</text><text x="545" y="742">cervical</text><text x="540" y="752">ganglion</text>
<text x="545" y="780">Inferior</text><text x="545" y="790">cervical</text><text x="540" y="800">ganglion</text>
<text x="778" y="695">Larynx</text><text x="775" y="713">Trachea</text><text x="717" y="719">Pulmonary</text><text x="726" y="729">nerves</text>
<text x="768" y="770">Bronchus</text><text x="785" y="786">Lung</text><text x="749" y="798">Cervical cardiac nn.:</text><text x="768" y="808">Superior</text><text x="780" y="819">Middle</text><text x="788" y="829">Inferior</text>
<text x="931" y="773">Heart</text><text x="756" y="896">Thoracic</text><text x="744" y="906">cardiac nerves</text>
<text x="702" y="915">Celiac</text><text x="700" y="925">ganglia</text><text x="848" y="912">Liver</text>
<text x="974" y="950">Gallbladder</text><text x="973" y="969">Bile duct</text><text x="1077" y="960">Spleen</text>
<text x="641" y="957">Greater</text><text x="635" y="967">splanchnic</text><text x="644" y="977">nerve</text>
<text x="961" y="1011">Pancreas</text><text x="870" y="1035">Adrenal</text><text x="876" y="1045">gland</text><text x="875" y="1055">cortex</text>
<text x="660" y="1049">Lesser</text><text x="668" y="1059">and</text><text x="662" y="1070">least</text><text x="634" y="1081">splanchnic</text><text x="649" y="1091">nerve</text>
<text x="753" y="1054">Aortico-</text><text x="760" y="1064">renal</text><text x="754" y="1074">ganglia</text>
<text x="895" y="1085">Kidney</text><text x="1081" y="1055">Esophagus</text><text x="1090" y="1082">Stomach</text>
<text x="705" y="1147">Superior</text><text x="697" y="1157">mesenteric</text><text x="704" y="1168">ganglion</text>
<text x="928" y="1196">Colon:</text><text x="903" y="1207">Ascending-A</text><text x="904" y="1217">Transverse-B</text><text x="899" y="1228">Descending-C</text>
<text x="765" y="1217">Bladder</text><text x="868" y="1253">Prostate</text><text x="977" y="1260">Rectum</text><text x="860" y="1304">Urethra</text>
<text x="647" y="1233">Lumbar</text><text x="641" y="1244">splanchnic</text><text x="649" y="1254">nerves</text>
<text x="699" y="1245">Inferior</text><text x="692" y="1255">mesenteric</text><text x="697" y="1266">ganglion</text>
<text x="640" y="1319">Pelvic splanchnic</text><text x="664" y="1329">nerve</text>
<text x="542" y="1331">Sympathetic</text><text x="556" y="1341">ganglion</text>
<text x="730" y="1380">Uterus</text><text x="904" y="1393">Testis</text>
<text x="1057" y="1150" style="font-size:8px">B</text><text x="1085" y="1172" style="font-size:8px">C</text><text x="977" y="1187" style="font-size:8px">A</text>
</g>
<g class="g">
<line x1="653" y1="422" x2="655" y2="447"/><line x1="905" y1="434" x2="903" y2="470"/><line x1="716" y1="503" x2="730" y2="512"/><line x1="805" y1="540" x2="790" y2="560"/><line x1="945" y1="520" x2="925" y2="530"/><line x1="955" y1="540" x2="940" y2="540"/><line x1="965" y1="584" x2="952" y2="590"/><line x1="835" y1="606" x2="822" y2="618"/>
<line x1="578" y1="685" x2="595" y2="685"/><line x1="580" y1="738" x2="603" y2="738"/><line x1="580" y1="786" x2="603" y2="786"/>
<line x1="808" y1="692" x2="825" y2="692"/><line x1="808" y1="710" x2="825" y2="710"/><line x1="806" y1="785" x2="835" y2="780"/><line x1="740" y1="733" x2="750" y2="770"/>
<line x1="752" y1="817" x2="768" y2="806"/><line x1="752" y1="822" x2="778" y2="817"/><line x1="752" y1="828" x2="786" y2="827"/>
<line x1="770" y1="890" x2="762" y2="870"/><line x1="772" y1="890" x2="780" y2="870"/><line x1="715" y1="929" x2="715" y2="940"/>
<line x1="870" y1="909" x2="880" y2="909"/><line x1="970" y1="947" x2="955" y2="945"/><line x1="970" y1="966" x2="950" y2="962"/>
<line x1="658" y1="980" x2="665" y2="1020"/><line x1="675" y1="1086" x2="690" y2="1080"/><line x1="768" y1="1045" x2="778" y2="1030"/><line x1="723" y1="1140" x2="745" y2="1125"/>
<line x1="663" y1="1225" x2="668" y2="1195"/><line x1="713" y1="1238" x2="705" y2="1222"/><line x1="676" y1="1310" x2="676" y2="1285"/><line x1="598" y1="1335" x2="615" y2="1335"/>
<line x1="800" y1="1213" x2="810" y2="1213"/><line x1="866" y1="1250" x2="858" y2="1252"/><line x1="1010" y1="1257" x2="1030" y2="1257"/><line x1="858" y1="1300" x2="848" y2="1298"/>
<line x1="1080" y1="1052" x2="1045" y2="1052"/><line x1="1088" y1="1079" x2="1075" y2="1080"/><line x1="893" y1="1082" x2="888" y2="1082"/>
</g>

<rect x="1151" y="951" width="148" height="204" fill="#fff" stroke="#555" stroke-width="1"/>
<text x="1158" y="970" style="font-size:12px;fill:#222">KEY</text><line x1="1158" y1="972" x2="1293" y2="972" stroke="#555" stroke-width="0.8"/>
<g style="font-size:8.2px;fill:#333;font-family:'Liberation Serif',serif">
<text x="1210" y="991" text-anchor="end" font-weight="bold">Blue lines</text><text x="1213" y="991">- Parasympathetic</text>
<text x="1210" y="1008" text-anchor="end" font-weight="bold">Red lines</text><text x="1213" y="1008">- Sympathetic</text>
<text x="1210" y="1028" text-anchor="end" font-weight="bold">Solid lines</text><text x="1213" y="1028">- Preganglionic</text><text x="1219" y="1037">motor neuron</text>
<text x="1210" y="1053" text-anchor="end" font-weight="bold">Dashed lines</text><text x="1213" y="1053">- Postganglionic</text><text x="1219" y="1062">motor neuron</text>
<text x="1210" y="1078" text-anchor="end" font-weight="bold">III</text><text x="1213" y="1078">- Oculomotor nerve</text>
<text x="1210" y="1094" text-anchor="end" font-weight="bold">VII</text><text x="1213" y="1094">- Facial nerve</text>
<text x="1210" y="1113" text-anchor="end" font-weight="bold">IX</text><text x="1213" y="1113">- Glossopharyngeal</text><text x="1219" y="1122">nerve</text>
<text x="1210" y="1138" text-anchor="end" font-weight="bold">X</text><text x="1213" y="1138">- Vagus nerve</text>
</g>

<text x="275" y="1436" style="font-size:7px;fill:#444">8026</text>
<text x="1280" y="1436" text-anchor="end" style="font-size:7.5px;fill:#333;font-weight:bold">©1991, 2000 Anatomical Chart Company, a division of Springhouse Corporation.</text>
</svg>
</body></html>
